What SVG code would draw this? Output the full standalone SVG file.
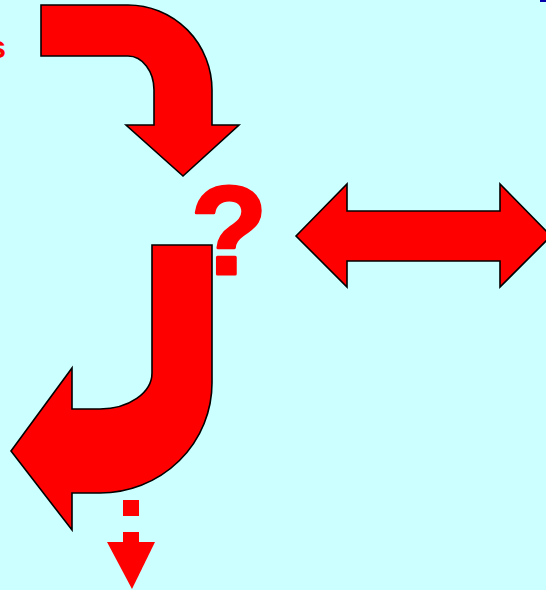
<svg xmlns="http://www.w3.org/2000/svg" width="546" height="590" viewBox="0 0 546 590">
<style>
.arrow{fill:#ff0000;stroke:#000;stroke-width:1.6;stroke-linejoin:miter}
.plain{fill:#ff0000}
.txt{fill:#ff0000;font-family:"Liberation Sans",Arial,sans-serif;font-weight:bold}
</style>
<rect x="0" y="0" width="546" height="590" fill="#ccffff"/>
<rect x="540" y="0" width="6" height="2" fill="#0000aa"/>
<g id="label-s"><text class="txt" x="6" y="58" font-size="32" text-anchor="end">s</text></g>
<g id="connectors">
<path id="arrow-top" class="arrow" d="M41,5 L128,5 A84,85 0 0 1 212,90 L212,125 L239,125 L183,176 L126,125 L154,125 L154,90 A26,34 0 0 0 128,56 L41,56 Z"/>
<path id="arrow-bottom" class="arrow" d="M152,245 L212,245 L212,383 A112,110 0 0 1 100,493 L72,493 L72,530 L11,451 L72,368 L72,409 L100,409 A52,36 0 0 0 152,373 Z"/>
<path id="arrow-double" class="arrow" d="M296,236 L347,184 L347,211 L500,211 L500,184 L551,236 L500,287 L500,261 L347,261 L347,287 Z"/>
<g id="arrow-dashed">
<rect class="plain" x="123" y="500" width="16" height="16"/>
<rect class="plain" x="123" y="532" width="16" height="11"/>
<path class="plain" d="M107,542 L155,542 L132,589 Z"/>
</g>
</g>
<g id="question"><text class="txt" x="229" y="274" font-size="126" text-anchor="middle" font-family="DejaVu Sans,sans-serif" stroke="#ff0000" stroke-width="3" stroke-linejoin="round">?</text></g>
</svg>
